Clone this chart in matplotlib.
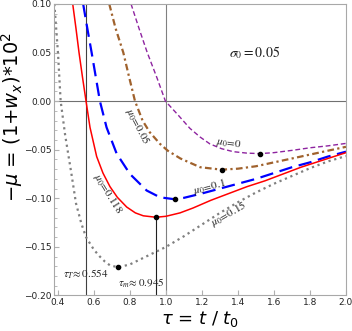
import numpy as np
import matplotlib
matplotlib.use("Agg")
import matplotlib.pyplot as plt

# --- curve data: tau, -mu*1e2 ---
tau_015 = [0.380, 0.400, 0.415, 0.440, 0.475, 0.500, 0.530, 0.556, 0.600, 0.633,
           0.660, 0.689, 0.735, 0.800, 0.900, 1.000, 1.100, 1.200, 1.300, 1.400,
           1.500, 1.600, 1.700, 1.800, 1.900, 2.000]
mu_015 = [0.100, 0.050, 0.000, -0.035, -0.075, -0.105, -0.126, -0.140, -0.153, -0.160,
          -0.165, -0.169, -0.171, -0.168, -0.159, -0.150, -0.139, -0.127, -0.115, -0.104,
          -0.094, -0.085, -0.077, -0.069, -0.062, -0.0565]

tau_0118 = [0.482, 0.500, 0.517, 0.536, 0.556, 0.578, 0.615, 0.650, 0.689, 0.730,
            0.782, 0.830, 0.874, 0.945, 1.000, 1.078, 1.150, 1.250, 1.350, 1.450,
            1.550, 1.650, 1.750, 1.850, 1.950, 2.000]
mu_0118 = [0.100, 0.075, 0.050, 0.025, 0.000, -0.027, -0.057, -0.074, -0.088, -0.099,
           -0.109, -0.115, -0.118, -0.1195, -0.1185, -0.115, -0.110, -0.102, -0.095, -0.088,
           -0.082, -0.075, -0.068, -0.062, -0.056, -0.053]

tau_01 = [0.540, 0.563, 0.587, 0.610, 0.633, 0.670, 0.726, 0.800, 0.893, 0.967,
          1.050, 1.100, 1.200, 1.300, 1.400, 1.500, 1.600, 1.700, 1.800, 1.900, 2.000]
mu_01 = [0.100, 0.075, 0.050, 0.025, 0.000, -0.027, -0.054, -0.075, -0.092, -0.099,
         -0.101, -0.0995, -0.095, -0.090, -0.085, -0.080, -0.074, -0.068, -0.063, -0.057, -0.052]

tau_005 = [0.685, 0.720, 0.763, 0.795, 0.828, 0.870, 0.910, 0.967, 1.010, 1.080,
           1.190, 1.309, 1.400, 1.500, 1.600, 1.700, 1.800, 1.900, 2.000]
mu_005 = [0.100, 0.075, 0.050, 0.025, 0.000, -0.020, -0.032, -0.044, -0.051, -0.059,
          -0.068, -0.0705, -0.0695, -0.067, -0.063, -0.059, -0.055, -0.051, -0.047]

tau_0 = [0.806, 0.850, 0.896, 0.950, 0.997, 1.066, 1.133, 1.190, 1.244, 1.310,
         1.374, 1.450, 1.522, 1.600, 1.707, 1.800, 1.900, 2.000]
mu_0 = [0.100, 0.075, 0.050, 0.024, 0.000, -0.014, -0.028, -0.037, -0.044, -0.049,
        -0.052, -0.0535, -0.054, -0.053, -0.0505, -0.048, -0.046, -0.0435]

# minima
min_tau = [1.522, 1.309, 1.050, 0.945, 0.735]
min_mu = [-0.054, -0.0705, -0.101, -0.1195, -0.171]

tau_T = 0.554
tau_m = 0.945

fig = plt.figure(figsize=(3.52, 3.31), dpi=100)
ax = fig.add_axes([0.1534, 0.1073, 0.8295, 0.8807])

ax.axhline(0.0, color='#707070', lw=0.8, zorder=1)
ax.axvline(1.0, color='#808080', lw=0.8, zorder=1)
ax.axvline(tau_T, color='#404040', lw=0.8, zorder=1)
ax.plot([tau_m, tau_m], [-0.2, min_mu[3]], color='#202020', lw=0.8, zorder=1)

ax.plot(tau_0, mu_0, color='#8e24a0', lw=1.0, dashes=(3.5, 2), zorder=2)
ax.plot(tau_005, mu_005, color='#a0622d', lw=1.6, dashes=(3, 1.5, 1, 1.5), zorder=2)
ax.plot(tau_01, mu_01, color='#0000ff', lw=1.6, dashes=(6, 3), zorder=2)
ax.plot(tau_0118, mu_0118, color='#ff0000', lw=1.1, zorder=2)
ax.plot(tau_015, mu_015, color='#808080', lw=1.6, ls=':', zorder=2)
ax.plot(min_tau, min_mu, 'o', color='k', ms=3, zorder=3)

ax.set_xlim(0.378, 2.0)
ax.set_ylim(-0.2, 0.1)
ax.set_xticks([0.4, 0.6, 0.8, 1.0, 1.2, 1.4, 1.6, 1.8, 2.0])
ax.set_yticks([-0.20, -0.15, -0.10, -0.05, 0.00, 0.05, 0.10])
ax.set_yticklabels(['\u22120.20', '\u22120.15', '\u22120.10', '\u22120.05', '0.00', '0.05', '0.10'])
ax.set_yticks(np.arange(-0.2, 0.1001, 0.01), minor=True)
ax.tick_params(which='both', direction='in', colors='#b0b0b0', labelcolor='#222222',
               labelsize=6.5, pad=2)
ax.tick_params(which='major', length=3.5)
ax.tick_params(which='minor', length=2)
for s in ax.spines.values():
    s.set_color('#a8a8a8')
    s.set_linewidth(0.8)

ax.set_xlabel(r'$\tau$ = $t$ / $t_0$', fontsize=13, labelpad=1)
fig.text(0.034, 0.646, r'$-\mu$ = (1+$w_x$)*10$^2$', rotation=90, fontsize=14,
         ha='center', va='center')

sf = dict(family='serif', fontsize=8, math_fontfamily='stix', color='#222222')
ax.text(0.839, -0.026, r'$\mu_0\!=\!0.05$', rotation=-62, ha='center', va='center', **sf)
ax.text(0.675, -0.095, r'$\mu_0\!=\!0.118$', rotation=-58, ha='center', va='center', **sf)
ax.text(1.35, -0.0435, r'$\mu_0\!=\!0$', rotation=-8, ha='center', va='center', **sf)
ax.text(1.244, -0.088, r'$\mu_0\!=\!0.1$', rotation=15, ha='center', va='center', **sf)
ax.text(1.35, -0.1165, r'$\mu_0\!=\!0.15$', rotation=30, ha='center', va='center', **sf)
ax.text(0.553, -0.178, r'$\tau_T\!\approx 0.554$', ha='center', va='center', **sf)
ax.text(0.864, -0.187, r'$\tau_m\!\approx 0.945$', ha='center', va='center', **sf)
ax.text(1.494, 0.050, r'$\sigma_0 = 0.05$', ha='center', va='center',
        family='serif', fontsize=10, math_fontfamily='stix', color='#222222')

fig.savefig('out.png', dpi=100)
